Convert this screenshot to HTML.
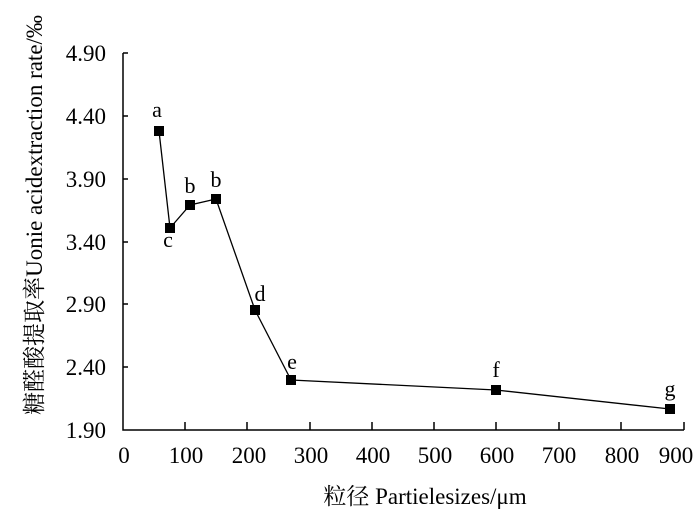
<!DOCTYPE html>
<html><head><meta charset="utf-8"><style>body{margin:0;background:#fff}svg{display:block}</style></head>
<body>
<svg width="700" height="510" xmlns="http://www.w3.org/2000/svg" font-family="Liberation Serif, Noto Serif CJK SC, serif" fill="#000">
<g stroke="#000" stroke-width="1.5" fill="none">
<path d="M123,53 V430 H684"/>
<path d="M123,53h5M123,116h5M123,179h5M123,242h5M123,304h5M123,367h5"/>
<path d="M185,430v-8M247,430v-8M310,430v-8M372,430v-8M434,430v-8M496,430v-8M559,430v-8M621,430v-8M684,430v-8"/>
</g>
<polyline fill="none" stroke="#000" stroke-width="1.3" points="159,131 170,228 190,205 216,199 255,310 291,380 496,390 670,409"/>
<g>
<rect x="154" y="126" width="10" height="10"/><rect x="165" y="223" width="10" height="10"/>
<rect x="185" y="200" width="10" height="10"/><rect x="211" y="194" width="10" height="10"/>
<rect x="250" y="305" width="10" height="10"/><rect x="286" y="375" width="10" height="10"/>
<rect x="491" y="385" width="10" height="10"/><rect x="665" y="404" width="10" height="10"/>
</g>
<g font-size="22" text-anchor="middle">
<text x="157" y="117">a</text><text x="168" y="247">c</text><text x="190" y="193">b</text><text x="216" y="187">b</text>
<text x="260" y="301">d</text><text x="292" y="369">e</text><text x="496" y="377">f</text><text x="670" y="396">g</text>
</g>
<g font-size="23" text-anchor="end">
<text x="106" y="61">4.90</text><text x="106" y="124">4.40</text><text x="106" y="187">3.90</text>
<text x="106" y="250">3.40</text><text x="106" y="312">2.90</text><text x="106" y="375">2.40</text><text x="106" y="438">1.90</text>
</g>
<g font-size="23" text-anchor="middle">
<text x="124" y="463">0</text><text x="186" y="463">100</text><text x="249" y="463">200</text><text x="311" y="463">300</text>
<text x="373" y="463">400</text><text x="435" y="463">500</text><text x="497" y="463">600</text><text x="559" y="463">700</text>
<text x="622" y="463">800</text><text x="676" y="463">900</text>
</g>
<text x="425" y="504" font-size="23" text-anchor="middle">粒径 Partielesizes/μm</text>
<text transform="translate(42,215) rotate(-90)" font-size="23" text-anchor="middle">糖醛酸提取率Uonie acidextraction rate/‰</text>
</svg>
</body></html>
